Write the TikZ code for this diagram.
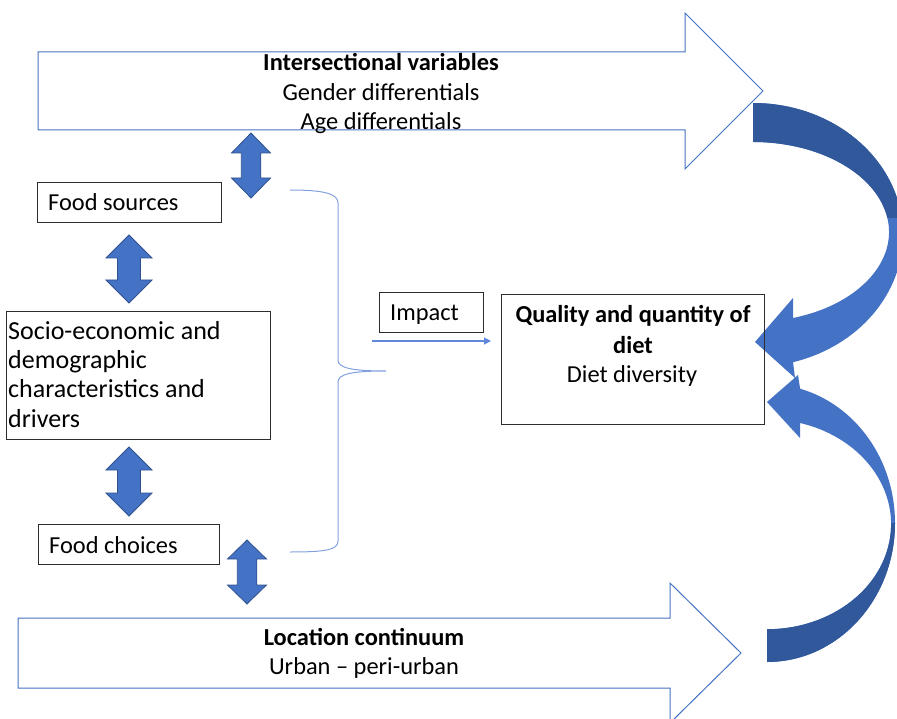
\documentclass[tikz,border=0pt]{standalone}
\usepackage{fontspec}
\setmainfont{Carlito}
\usetikzlibrary{arrows.meta}
\definecolor{pblue}{RGB}{68,114,196}
\definecolor{pdark}{RGB}{49,88,155}
\definecolor{pedge}{RGB}{47,82,143}
\definecolor{bracec}{RGB}{130,160,222}
\definecolor{impc}{RGB}{95,135,220}
\definecolor{boxc}{RGB}{45,45,45}
\newcommand{\DblArr}[5]{\filldraw[dblarr] (#1,#2) -- (#1+#4,#2+#5) -- (#1+#4/2,#2+#5) -- (#1+#4/2,#3-#5) -- (#1+#4,#3-#5) -- (#1,#3) -- (#1-#4,#3-#5) -- (#1-#4/2,#3-#5) -- (#1-#4/2,#2+#5) -- (#1-#4,#2+#5) -- cycle;}
\begin{document}
\begin{tikzpicture}[x=1pt,y=-1pt,
  bigarr/.style={draw=pblue, line width=1pt, fill=white, line join=miter},
  dblarr/.style={fill=pblue, draw=pedge, line width=0.8pt, line join=miter},
  box/.style={draw=boxc, line width=1.3pt, inner sep=0pt},
  txt/.style={inner sep=0pt, font={\fontsize{24.4}{29}\selectfont}},
  btxt/.style={inner sep=0pt, font={\fontsize{24.4}{29}\selectfont\bfseries}},
  stxt/.style={inner sep=0pt, font={\fontsize{26}{29}\selectfont}},
  bracel/.style={draw=bracec, line width=1pt},
  impl/.style={draw=impc, line width=1.2pt, -{Triangle[length=7pt,width=7pt]}}
]
\useasboundingbox (0,0) rectangle (897,719);
\clip (0,0) rectangle (897,719);

% large outline arrows
\path[bigarr] (38,52) -- (685,52) -- (685,13) -- (763,91) -- (685,169) -- (685,130) -- (38,130) -- cycle;
\path[bigarr] (18,618) -- (670,618) -- (670,583) -- (741,653) -- (670,723) -- (670,688) -- (18,688) -- cycle;

% curved arrows
\fill[pblue] (753,103) arc[start angle=-90, end angle=74.5, x radius=150, y radius=132] -- (795,378) -- (755,342) -- (793,298) -- (793,318) arc[start angle=72.9, end angle=-90, x radius=136, y radius=90] -- cycle;
\begin{scope}
\clip (700,0) rectangle (900,218);
\fill[pdark] (753,103) arc[start angle=-90, end angle=74.5, x radius=150, y radius=132] -- (795,378) -- (755,342) -- (793,298) -- (793,318) arc[start angle=72.9, end angle=-90, x radius=136, y radius=90] -- cycle;
\end{scope}
\fill[pblue] (767,662) arc[start angle=90, end angle=-75, x radius=128, y radius=139] -- (798,375) -- (767,402) -- (800,438) -- (800,423) arc[start angle=-74.6, end angle=90, x radius=124, y radius=105] -- cycle;
\begin{scope}
\clip (700,523) rectangle (900,719);
\fill[pdark] (767,662) arc[start angle=90, end angle=-75, x radius=128, y radius=139] -- (798,375) -- (767,402) -- (800,438) -- (800,423) arc[start angle=-74.6, end angle=90, x radius=124, y radius=105] -- cycle;
\end{scope}

% boxes
\node[box, minimum width=184pt, minimum height=40pt, anchor=north west] (fs) at (37,182) {};
\node[box, minimum width=264pt, minimum height=128pt, anchor=north west] (se) at (6,311) {};
\node[box, minimum width=181pt, minimum height=40pt, anchor=north west] (fc) at (38,524) {};
\node[box, minimum width=104pt, minimum height=40pt, anchor=north west] (imp) at (379,292) {};
\node[box, minimum width=263pt, minimum height=130pt, anchor=north west] (q) at (501,294) {};

% double arrows
\DblArr{251}{133}{198}{19.5}{20}
\DblArr{129}{235}{303}{23}{23}
\DblArr{129}{447}{516}{23}{23}
\DblArr{247}{540}{604}{19.5}{19}

% brace
\draw[bracel] (290,190) .. controls (325,190) and (338,194) .. (338,203) -- (338,360) .. controls (338,368) and (352,371) .. (386,371) .. controls (352,371) and (338,374) .. (338,382) -- (338,541) .. controls (338,550) and (325,552) .. (290,552);

% impact arrow
\coordinate (impS) at (372,341);
\coordinate (impE) at (491,341);
\draw[impl] (impS) -- (impE);

% texts
\node[btxt, anchor=base] (iv1) at (381,71) {Intersectional variables};
\node[txt, anchor=base] (iv2) at (381,101) {Gender differentials};
\node[txt, anchor=base] (iv3) at (381,130) {Age differentials};
\node[btxt, anchor=base] (lc1) at (364,645) {Location continuum};
\node[txt, anchor=base] (lc2) at (364,674) {Urban -- peri-urban};
\node[txt, anchor=base west] (fst) at (48,211) {Food sources};
\node[stxt, anchor=base west] (se1) at (8,339) {Socio-economic and};
\node[stxt, anchor=base west] (se2) at (8,368) {demographic};
\node[stxt, anchor=base west] (se3) at (8,397) {characteristics and};
\node[stxt, anchor=base west] (se4) at (8,427) {drivers};
\node[txt, anchor=base west] (fct) at (49,553) {Food choices};
\node[txt, anchor=base west] (impt) at (390,321) {Impact};
\node[btxt, anchor=base] (q1) at (633,323) {Quality and quantity of};
\node[btxt, anchor=base] (q2) at (633,353) {diet};
\node[txt, anchor=base] (q3) at (632,382) {Diet diversity};
\end{tikzpicture}
\end{document}
